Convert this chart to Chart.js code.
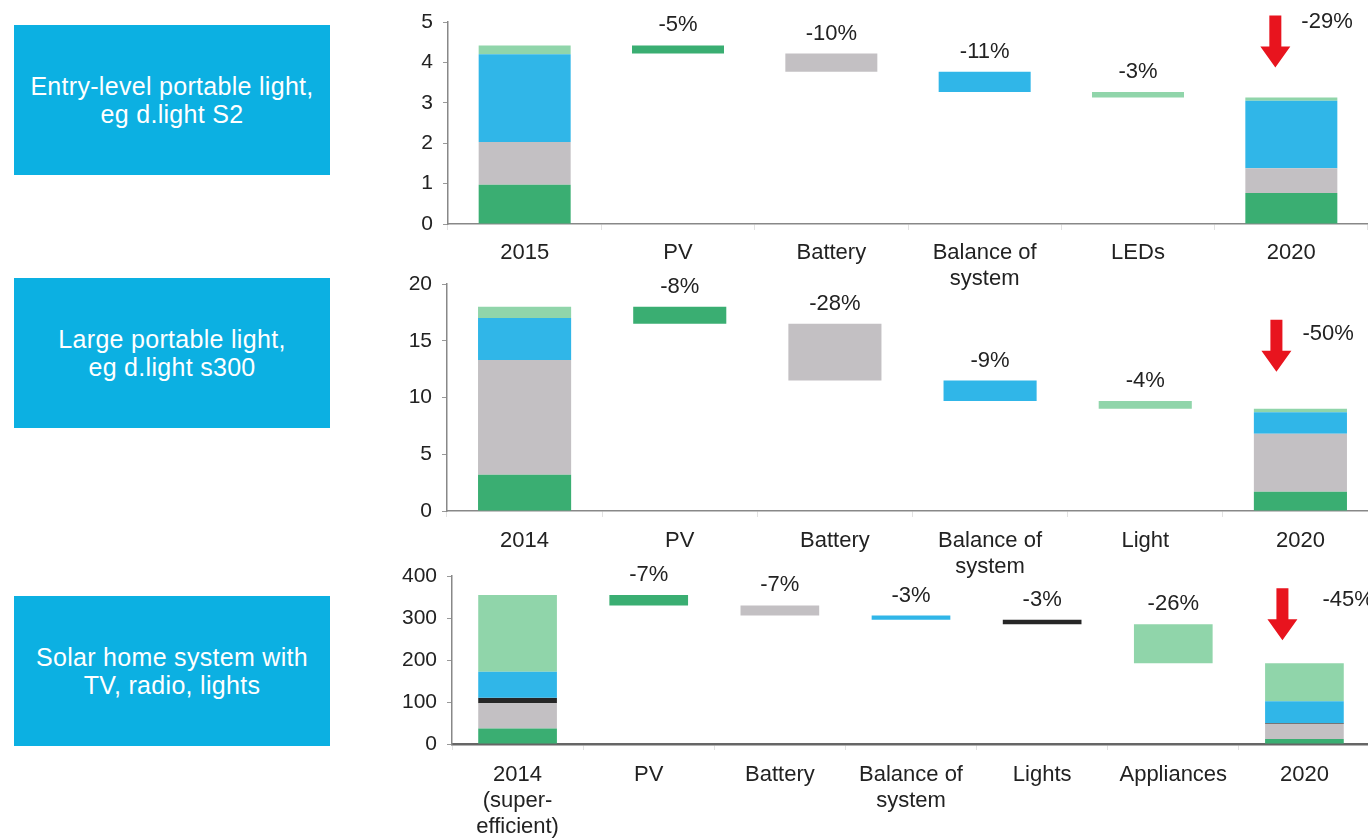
<!DOCTYPE html>
<html>
<head>
<meta charset="utf-8">
<script src="https://cdn.jsdelivr.net/npm/chart.js@4.4.1/dist/chart.umd.min.js"></script>
<style>
  body { margin: 0; width: 1368px; height: 838px; background: #fff; position: relative; overflow: hidden; font-family: 'Liberation Sans', Arial, sans-serif; }
  .box { position: absolute; left: 14px; width: 316px; height: 150px; background: #0cb0e2; color: #fff; font-size: 25px; letter-spacing: 0.3px; line-height: 28px; display: flex; align-items: center; justify-content: center; text-align: center; }
  .wrap { position: absolute; left: 380px; }
</style>
</head>
<body>
<div class="box" style="top:25px">Entry-level portable light,<br>eg d.light S2</div>
<div class="box" style="top:278px">Large portable light,<br>eg d.light s300</div>
<div class="box" style="top:596px">Solar home system with<br>TV, radio, lights</div>

<div class="wrap" style="top:-4px;width:988px;height:296px"><canvas id="c1"></canvas></div>
<div class="wrap" style="top:258px;width:998px;height:328px"><canvas id="c2"></canvas></div>
<div class="wrap" style="top:550px;width:990px;height:288px"><canvas id="c3"></canvas></div>

<script>
const green = '#3aae72', gray = '#c3c0c3', blue = '#30b6e8', light = '#90d5aa', black = '#262626';

// Entry-level portable light (USD)
const cats1 = ['2015', 'PV', 'Battery', ['Balance of', 'system'], 'LEDs', '2020'];
const from1 = [0.97, 1.06, 2.17, 0.22]; // PV, battery, BoS, LEDs in 2015
const to1 = [0.77, 0.61, 1.67, 0.08];   // same parts in 2020
const pct1 = ['-5%', '-10%', '-11%', '-3%'];
const total1 = '-29%';
const ticks1 = [0, 1, 2, 3, 4, 5];

// Large portable light
const cats2 = ['2014', 'PV', 'Battery', ['Balance of', 'system'], 'Light', '2020'];
const from2 = [3.2, 10.1, 3.7, 1.0];
const to2 = [1.7, 5.1, 1.9, 0.3];
const pct2 = ['-8%', '-28%', '-9%', '-4%'];
const total2 = '-50%';
const ticks2 = [0, 5, 10, 15, 20];

// Solar home system
const cats3 = [['2014', '(super-', 'efficient)'], 'PV', 'Battery', ['Balance of', 'system'], 'Lights', 'Appliances', '2020'];
const from3 = [37, 60, 62, 13, 183]; // PV, battery, BoS, lights, appliances
const to3 = [12, 36, 52, 2, 90];
const pct3 = ['-7%', '-7%', '-3%', '-3%', '-26%'];
const total3 = '-45%';
const ticks3 = [0, 100, 200, 300, 400];

Chart.defaults.font.family = "'Liberation Sans', Arial, sans-serif";
Chart.defaults.font.size = 21;
Chart.defaults.color = '#222';

function buildBars(from, to, colors, order) {
  const n = from.length;
  const data = from.map(() => new Array(n + 2).fill(null));
  let acc = 0;
  order.forEach(i => { data[i][0] = [acc, acc + from[i]]; acc += from[i]; });
  let run = acc;
  from.forEach((v, k) => {
    const step = v - to[k];
    data[k][k + 1] = [run - step, run];
    run -= step;
  });
  acc = 0;
  order.forEach(i => { data[i][n + 1] = [acc, acc + to[i]]; acc += to[i]; });
  return data.map((d, i) => ({
    data: d,
    backgroundColor: colors[i],
    borderWidth: 0,
    grouped: false,
    barPercentage: 0.6,
    categoryPercentage: 1
  }));
}

function makeChart(id, cats, from, to, colors, order, pct, total, ticks, opt) {
  const datasets = buildBars(from, to, colors, order);
  const n = from.length;
  const labelPlugin = {
    id: 'labels' + id,
    afterDatasetsDraw(chart) {
      const ctx = chart.ctx;
      const y = chart.scales.y;
      ctx.save();
      ctx.fillStyle = '#222';
      ctx.font = "22px 'Liberation Sans', Arial, sans-serif";
      ctx.textAlign = 'center';
      ctx.textBaseline = 'middle';
      pct.forEach((t, k) => {
        const el = chart.getDatasetMeta(k).data[k + 1];
        const top = y.getPixelForValue(datasets[k].data[k + 1][1]);
        ctx.fillText(t, el.x, top - 20);
      });
      // red arrow above the final bar
      const last = chart.getDatasetMeta(0).data[n + 1];
      const endTop = y.getPixelForValue(to.reduce((a, b) => a + b, 0));
      const ax = last.x + opt.arrowDx, bottom = endTop - opt.arrowGap, topA = bottom - 52;
      ctx.fillStyle = '#e8141e';
      ctx.beginPath();
      ctx.moveTo(ax - 6, topA);
      ctx.lineTo(ax + 6, topA);
      ctx.lineTo(ax + 6, bottom - 21);
      ctx.lineTo(ax + 15, bottom - 21);
      ctx.lineTo(ax, bottom);
      ctx.lineTo(ax - 15, bottom - 21);
      ctx.lineTo(ax - 6, bottom - 21);
      ctx.closePath();
      ctx.fill();
      ctx.fillStyle = '#222';
      ctx.textAlign = 'left';
      ctx.fillText(total, ax + opt.totalDx, topA + opt.totalDy);
      ctx.restore();
    }
  };
  return new Chart(document.getElementById(id), {
    type: 'bar',
    data: { labels: cats, datasets },
    options: {
      responsive: true,
      maintainAspectRatio: false,
      animation: false,
      layout: { padding: { top: 26, right: 0, bottom: 0, left: 0 } },
      plugins: { legend: { display: false }, tooltip: { enabled: false } },
      scales: {
        x: {
          grid: { drawOnChartArea: false, color: '#e2e2e2', tickLength: 6 },
          border: { color: opt.xBorder, width: opt.xWidth },
          ticks: { padding: opt.xPad, maxRotation: 0, autoSkip: false, font: { size: 22, lineHeight: 1.18 } },
          afterFit(s) { s.height = opt.xHeight; }
        },
        y: {
          min: ticks[0],
          max: ticks[ticks.length - 1],
          afterBuildTicks(s) { s.ticks = ticks.map(v => ({ value: v })); },
          grid: { drawOnChartArea: false, color: '#999', tickLength: 5 },
          border: { color: '#888', width: 1.5 },
          ticks: { padding: 10, font: { size: 21 } },
          afterFit(s) { s.width = opt.yWidth; }
        }
      }
    },
    plugins: [labelPlugin]
  });
}

makeChart('c1', cats1, from1, to1, [green, gray, blue, light], [0, 1, 2, 3], pct1, total1, ticks1,
  { xHeight: 68, yWidth: 68, xPad: 10, xBorder: '#888', xWidth: 1.5, arrowDx: -16, arrowGap: 30, totalDx: 26, totalDy: 6 });
makeChart('c2', cats2, from2, to2, [green, gray, blue, light], [0, 1, 2, 3], pct2, total2, ticks2,
  { xHeight: 75, yWidth: 67, xPad: 11, xBorder: '#888', xWidth: 1.5, arrowDx: -24, arrowGap: 37, totalDx: 26, totalDy: 14 });
makeChart('c3', cats3, from3, to3, [green, gray, blue, black, light], [0, 1, 3, 2, 4], pct3, total3, ticks3,
  { xHeight: 94, yWidth: 72, xPad: 12, xBorder: '#666', xWidth: 2.5, arrowDx: -22, arrowGap: 23, totalDx: 40, totalDy: 12 });
</script>
</body>
</html>
